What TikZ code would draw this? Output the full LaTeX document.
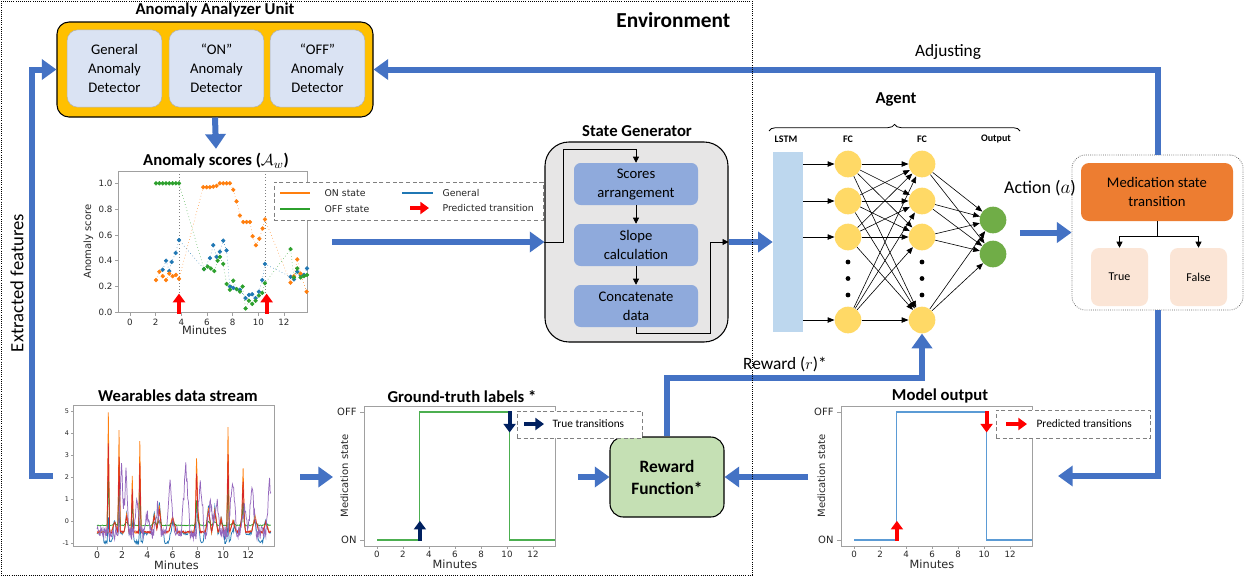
\documentclass[tikz,border=0pt]{standalone}
\usepackage{fontspec}
\setmainfont{Carlito}
\newfontfamily\dejavu{DejaVu Sans}
\usetikzlibrary{arrows.meta,decorations.pathreplacing}
\definecolor{bigblue}{HTML}{4472C4}
\definecolor{aauorange}{HTML}{FFC000}
\definecolor{detblue}{HTML}{DAE3F3}
\definecolor{sgblue}{HTML}{8FAADC}
\definecolor{sggray}{HTML}{E7E6E6}
\definecolor{lstmblue}{HTML}{BDD7EE}
\definecolor{fcyellow}{HTML}{FFD966}
\definecolor{outgreen}{HTML}{70AD47}
\definecolor{medorange}{HTML}{ED7D31}
\definecolor{tfpeach}{HTML}{FBE5D6}
\definecolor{rewgreen}{HTML}{C5E0B4}
\definecolor{navy}{HTML}{002060}
\definecolor{mplblue}{HTML}{1F77B4}
\definecolor{mplorange}{HTML}{FF7F0E}
\definecolor{mplgreen}{HTML}{2CA02C}
\definecolor{mplred}{HTML}{D62728}
\definecolor{mplpurple}{HTML}{9467BD}
\definecolor{stepgreen}{HTML}{4CAF50}
\definecolor{stepblue}{HTML}{5B9BD5}
\definecolor{axisgray}{HTML}{A0A0A0}
\begin{document}
\begin{tikzpicture}[x=0.75pt,y=-0.75pt,
  declare function={
    tri(\t,\c,\w)=max(0,1-abs(\t-\c)/\w);
    spk(\t)=5.4*tri(\t,0.9,0.1)+4.6*tri(\t,1.75,0.1)+2.6*tri(\t,2.8,0.1)+4.2*tri(\t,3.4,0.1)+2.4*tri(\t,7.9,0.1)+4.9*tri(\t,10.4,0.1)+2.2*tri(\t,11.6,0.1);
    mid(\t)=0.6*tri(\t,1.4,0.25)+1.0*tri(\t,2.35,0.2)+1.0*tri(\t,4.55,0.25)+1.5*tri(\t,4.95,0.2)+0.9*tri(\t,6.0,0.3)+1.6*tri(\t,7.95,0.25)+1.3*tri(\t,8.85,0.25)+1.2*tri(\t,9.35,0.25)+0.8*tri(\t,9.85,0.2)+0.7*tri(\t,10.8,0.25)+1.2*tri(\t,11.55,0.25)+0.9*tri(\t,12.55,0.3)+0.6*tri(\t,13.4,0.25);
    pur(\t)=3.0*tri(\t,1.95,0.25)+3.1*tri(\t,2.3,0.2)+1.5*tri(\t,3.2,0.3)+0.9*tri(\t,4.0,0.3)+1.2*tri(\t,4.8,0.3)+2.3*tri(\t,5.8,0.35)+3.1*tri(\t,7.05,0.35)+2.4*tri(\t,8.2,0.35)+1.6*tri(\t,9.0,0.3)+1.5*tri(\t,9.5,0.3)+2.5*tri(\t,10.75,0.35)+1.3*tri(\t,11.7,0.3)+2.0*tri(\t,12.3,0.35)+2.4*tri(\t,13.7,0.3);
  },
  bigarrow/.style={draw=bigblue,line width=4.5pt,line join=miter,-{Triangle[length=11pt,width=15pt]}},
  thinarrow/.style={draw=black,line width=0.6pt,-{Triangle[length=4.5pt,width=4.5pt]}},
  netarrow/.style={draw=black,line width=0.45pt,-{Triangle[length=5pt,width=4pt]}},
  redarr/.style={draw=red,line width=3pt,-{Triangle[length=6.5pt,width=9pt]}},
  navyarr/.style={draw=navy,line width=3pt,-{Triangle[length=6.5pt,width=9pt]}},
  titlelbl/.style={font=\bfseries\fontsize{12.5}{14}\selectfont},
  detbox/.style={draw=gray!60,fill=detblue,rounded corners=8pt,minimum width=71pt,minimum height=58pt,align=center,inner sep=0pt,font=\fontsize{11}{14.25}\selectfont},
  sgbox/.style={fill=sgblue,rounded corners=5pt,minimum width=93pt,minimum height=31.5pt,align=center,inner sep=0pt,font=\fontsize{11}{14.25}\selectfont},
  neuron/.style={circle,minimum size=20pt,inner sep=0pt},
  netlbl/.style={font=\bfseries\fontsize{7.5}{9}\selectfont},
  ticklbl/.style={font=\dejavu\fontsize{6.5}{8}\selectfont,text=black!85,inner sep=1.5pt},
  axlbl/.style={font=\dejavu\fontsize{7.5}{9}\selectfont,text=black!85,inner sep=1pt},
  pltframe/.style={draw=axisgray,line width=0.7pt},
  legbox/.style={draw=gray,densely dashed,fill=white,inner sep=0pt,line width=0.5pt},
]
\useasboundingbox (0,0) rectangle (1248,576);
\fill[white] (0,0) rectangle (1248,576);

% ================= Anomaly Analyzer Unit
\node[titlelbl] (aautitle) at (215,10) {Anomaly Analyzer Unit};
\node[draw=black,line width=0.8pt,fill=aauorange,rounded corners=9pt,minimum width=237pt,minimum height=71.25pt,inner sep=0pt] (aau) at (215,69.5) {};
\node[detbox] (gad) at (114.5,68.5) {General\\Anomaly\\Detector};
\node[detbox] (onad) at (216.5,68.5) {“ON”\\Anomaly\\Detector};
\node[detbox] (offad) at (317.5,68.5) {“OFF”\\Anomaly\\Detector};

% ================= Anomaly scores plot
\node[titlelbl] (astitle) at (216,161) {Anomaly scores ($\mathcal{A}_w$)};
\draw[bigarrow] (aau.south) -- (astitle.north);

\begin{scope}[shift={(130,312.3)},x=9.62pt,y=96.75pt]
  \draw[pltframe] (-0.935,0) rectangle (13.87,1.088);
  \foreach \v/\l [count=\i] in {0/0.0,0.2/0.2,0.4/0.4,0.6/0.6,0.8/0.8,1/1.0}{
    \draw[axisgray,line width=0.5pt] (-0.935,\v) -- ++(-0.25,0);
    \node[ticklbl,anchor=east] (asy\i) at (-1.2,\v) {\l};
  }
  \foreach \m in {0,2,...,12}{
    \draw[axisgray,line width=0.5pt] (\m,0) -- ++(0,-0.03);
    \node[ticklbl,anchor=north] (asx\m) at (\m,-0.035) {\m};
  }
  \node[axlbl,rotate=90] (asylab) at (-3.25,0.55) {Anomaly score};
  \node[axlbl,font=\dejavu\fontsize{8.5}{10}\selectfont] (asxlab) at (5.8,-0.14) {Minutes};
  \draw[gray,dotted,line width=0.4pt] (3.82,0.15) -- (3.82,1.088);
  \draw[gray,dotted,line width=0.4pt] (10.52,0.15) -- (10.52,1.088);
  \draw[mplblue,dotted,line width=0.4pt] plot[mark=*,mark size=1.4pt,mark options={solid}] coordinates {(2.55,0.33)(2.81,0.40)(3.06,0.32)(3.25,0.39)(3.56,0.46)(3.82,0.56)(5.77,0.335)(6.23,0.42)(6.49,0.52)(6.75,0.43)(7.01,0.47)(7.27,0.555)(7.53,0.48)(7.79,0.2)(8.05,0.19)(8.31,0.18)(8.57,0.175)(9.01,0.11)(9.27,0.135)(9.53,0.14)(9.79,0.11)(10.05,0.16)(10.31,0.25)(10.52,0.375)(12.52,0.275)(12.78,0.255)(13.04,0.315)(13.3,0.29)(13.56,0.29)(13.8,0.34)};
  \draw[mplorange,dotted,line width=0.4pt] plot[mark=*,mark size=1.4pt,mark options={solid}] coordinates {(2.03,0.25)(2.29,0.315)(2.55,0.28)(2.81,0.25)(3.06,0.30)(3.32,0.28)(3.58,0.29)(3.82,0.26)(5.71,0.97)(5.97,0.97)(6.23,0.97)(6.49,0.975)(6.75,0.98)(7.01,1.0)(7.27,1.0)(7.53,1.0)(7.79,1.0)(8.05,0.95)(8.31,0.86)(8.57,0.75)(8.83,0.70)(9.09,0.70)(9.35,0.70)(9.56,0.59)(9.82,0.52)(10.08,0.57)(10.34,0.65)(10.52,0.72)(12.52,0.23)(12.78,0.28)(13.04,0.41)(13.3,0.30)(13.77,0.16)};
  \draw[mplgreen,dotted,line width=0.4pt] plot[mark=*,mark size=1.4pt,mark options={solid}] coordinates {(2.03,1)(2.29,1)(2.55,1)(2.81,1)(3.06,1)(3.32,1)(3.58,1)(3.82,1)(5.77,0.335)(6.05,0.355)(6.3,0.34)(6.57,0.32)(6.83,0.40)(7.01,0.43)(7.27,0.375)(7.53,0.22)(7.79,0.175)(8.05,0.245)(8.31,0.18)(8.57,0.16)(8.78,0.2)(9.01,0.03)(9.27,0.09)(9.53,0.065)(9.79,0.09)(10.05,0.13)(10.31,0.15)(10.52,0.225)(12.52,0.49)(12.78,0.27)(13.04,0.34)(13.3,0.27)(13.56,0.28)(13.8,0.29)};
  \coordinate (asra1) at (3.82,-0.01);
  \coordinate (asrb1) at (3.82,0.145);
  \coordinate (asra2) at (10.65,-0.01);
  \coordinate (asrb2) at (10.65,0.145);
  \draw[redarr] (asra1) -- (asrb1);
  \draw[redarr] (asra2) -- (asrb2);
\end{scope}
% legend
\node[legbox,minimum width=201.75pt,minimum height=28.5pt] (aslegend) at (408.5,201) {};
\draw[mplorange,line width=1.1pt] (280,193) -- (310,193);
\draw[mplgreen,line width=1.1pt] (280,209) -- (310,209);
\draw[mplblue,line width=1.1pt] (402,193) -- (433,193);
\coordinate (legra) at (410,208);
\coordinate (legrb) at (429,208);
\draw[redarr] (legra) -- (legrb);
\node[axlbl,anchor=west,font=\dejavu\fontsize{7}{8}\selectfont] (legon) at (323,193) {ON state};
\node[axlbl,anchor=west,font=\dejavu\fontsize{7}{8}\selectfont] (legoff) at (323,209) {OFF state};
\node[axlbl,anchor=west,font=\dejavu\fontsize{7}{8}\selectfont] (leggen) at (441,193) {General};
\node[axlbl,anchor=west,font=\dejavu\fontsize{7}{8}\selectfont] (legpred) at (441,208) {Predicted transition};

% ================= State Generator
\node[titlelbl] (sgtitle) at (637,131) {State Generator};
\node[draw=black,line width=0.8pt,fill=sggray,rounded corners=18pt,minimum width=137.25pt,minimum height=150pt,inner sep=0pt] (sg) at (636.5,242) {};
\node[sgbox] (sb1) at (636,184) {Scores\\arrangement};
\node[sgbox] (sb2) at (636,245) {Slope\\calculation};
\node[sgbox] (sb3) at (636,306) {Concatenate\\data};
\draw[thinarrow] (sg.west) -- (563,242) |- (636,149) -- (sb1.north);
\draw[thinarrow] (sb1.south) -- (sb2.north);
\draw[thinarrow] (sb2.south) -- (sb3.north);
\draw[thinarrow] (sb3.south) -- (636,333) -| (710,242) -- (sg.east);
\coordinate (asout) at (332,242);
\draw[bigarrow] (asout) -- (sg.west);

% ================= Agent
\node[titlelbl] (agtitle) at (896,100) {Agent};
\draw[decorate,decoration={brace,amplitude=5pt},line width=0.6pt] (769,131) -- (1020,131);
\node[netlbl] (lstmlbl) at (786,139) {LSTM};
\node[netlbl] (fc1lbl) at (848,139) {FC};
\node[netlbl] (fc2lbl) at (922,139) {FC};
\node[netlbl] (outlbl) at (996,139) {Output};
\node[fill=lstmblue,minimum width=22.5pt,minimum height=135pt,inner sep=0pt] (lstm) at (788,242) {};
\foreach \n/\yy in {a/164,b/201,c/237,d/320}{
  \node[neuron,fill=fcyellow] (f1\n) at (848,\yy) {};
  \node[neuron,fill=fcyellow] (f2\n) at (922,\yy) {};
}
\node[neuron,fill=outgreen] (oa) at (993,220) {};
\node[neuron,fill=outgreen] (ob) at (993,254) {};
\foreach \yy in {262,278.5,295}{
  \fill (848,\yy) circle (1.8pt);
  \fill (922,\yy) circle (1.8pt);
}
\foreach \n in {a,b,c,d}{
  \draw[netarrow] (lstm.east |- f1\n) -- (f1\n);
}
\foreach \a in {a,b,c,d}{
  \foreach \b in {a,b,c,d}{
    \draw[netarrow] (f1\a) -- (f2\b);
  }
  \foreach \b in {a,b}{
    \draw[netarrow] (f2\a) -- (o\b);
  }
}
\draw[bigarrow] (sg.east) -- (lstm.west);

% ================= Medication state transition
\node[draw=gray!80!black,densely dotted,line width=0.6pt,rounded corners=10pt,minimum width=128.25pt,minimum height=116.25pt,inner sep=0pt] (medbox) at (1157.5,232.5) {};
\node[fill=medorange,rounded corners=6pt,minimum width=114pt,minimum height=43.5pt,align=center,inner sep=0pt,font=\fontsize{11}{14.25}\selectfont] (medtr) at (1157,192) {Medication state\\transition};
\node[fill=tfpeach,rounded corners=6pt,minimum width=42.75pt,minimum height=43.5pt,inner sep=0pt,font=\fontsize{9}{11}\selectfont] (truebox) at (1119.5,277) {True};
\node[fill=tfpeach,rounded corners=6pt,minimum width=42.75pt,minimum height=43.5pt,inner sep=0pt,font=\fontsize{9}{11}\selectfont] (falsebox) at (1198.5,277) {False};
\coordinate (medsplit) at (1157,236);
\draw[line width=0.6pt] (medtr.south) -- (medsplit);
\draw[thinarrow] (medsplit) -| (truebox.north);
\draw[thinarrow] (medsplit) -| (falsebox.north);
\node[font=\fontsize{13.5}{15}\selectfont] (actlbl) at (1040,188) {Action ($a$)};
\coordinate (actout) at (1020,232.5);
\draw[bigarrow] (actout) -- (medbox.west);

% ================= Feedback arrows
\node[font=\fontsize{13}{15}\selectfont] (adjlbl) at (948,52) {Adjusting};
\draw[bigarrow] (medbox.north) |- (aau.east);
\coordinate (moin) at (1058,476);
\draw[bigarrow] (medbox.south) |- (moin);
\coordinate (wsout) at (53,476);
\draw[bigarrow] (wsout) -- (32,476) |- (aau.west);
\node[font=\fontsize{14}{16}\selectfont,rotate=90] (exflbl) at (17,283) {Extracted features};

% ================= Reward function
\node[draw=black,line width=0.8pt,fill=rewgreen,rounded corners=10pt,minimum width=85.5pt,minimum height=60pt,align=center,inner sep=0pt,font=\bfseries\fontsize{13}{16.5}\selectfont] (reward) at (667,477) {Reward\\Function*};
\coordinate (rwturn) at (667,378);
\draw[bigarrow] (reward.north) -- (rwturn) -| (f2d.south);
\node[font=\fontsize{13}{15}\selectfont] (rwlbl) at (785,364) {Reward ($r$)*};

% ================= Wearables data stream
\node[titlelbl] (wstitle) at (178,396) {Wearables data stream};
\begin{scope}[shift={(97,521)},x=9.45pt,y=16.5pt]
  \draw[pltframe] (-1.83,-1.17) rectangle (14.05,5.23);
  \foreach \v [count=\i] in {-1,0,1,2,3,4,5}{
    \draw[axisgray,line width=0.5pt] (-1.83,\v) -- ++(-0.25,0);
    \node[ticklbl,anchor=east,font=\dejavu\fontsize{4.8}{6}\selectfont] (wsy\i) at (-2.05,\v) {\v};
  }
  \foreach \m in {0,2,...,12}{
    \draw[axisgray,line width=0.5pt] (\m,-1.17) -- ++(0,-0.15);
    \node[ticklbl,anchor=north,font=\dejavu\fontsize{7}{8}\selectfont] (wsx\m) at (\m,-1.3) {\m};
  }
  \node[axlbl,font=\dejavu\fontsize{8.5}{10}\selectfont] (wsxlab) at (6.3,-2.0) {Minutes};
  \pgfmathsetseed{11}
  \draw[mplblue,line width=0.55pt] plot[domain=0:13.8,samples=277] (\x,{-0.55-0.4*(sin(\x*150-45)>0.55)+0.2*spk(\x)+0.95*mid(\x)+0.08*rand});
  \draw[mplorange,line width=0.55pt] plot[domain=0:13.8,samples=277] (\x,{-0.5+spk(\x)+0.8*mid(\x)+0.06*rand});
  \draw[mplgreen,line width=0.55pt] plot[domain=0:13.8,samples=277] (\x,{-0.2+0.4*spk(\x)+0.15*mid(\x)+0.02*rand});
  \draw[mplred,line width=0.55pt] plot[domain=0:13.8,samples=277] (\x,{-0.5+0.75*spk(\x)+0.7*mid(\x)+0.05*rand});
  \draw[mplpurple,line width=0.55pt] plot[domain=0:13.8,samples=277] (\x,{-0.55+pur(\x)+0.3*rand});
\end{scope}
\coordinate (wsright) at (300,477);
\coordinate (gtin) at (333,477);
\draw[bigarrow] (wsright) -- (gtin);

% ================= Ground-truth labels
\node[titlelbl] (gttitle) at (462,397) {Ground-truth labels *};
\begin{scope}[shift={(377,540)},x=9.75pt,y=96pt]
  \draw[pltframe] (-1,-0.047) rectangle (13.7,1.04);
  \foreach \v/\l in {0/ON,1/OFF}{
    \draw[axisgray,line width=0.5pt] (-1,\v) -- ++(-0.3,0);
    \node[ticklbl,anchor=east,font=\dejavu\fontsize{7.5}{9}\selectfont] (gty\l) at (-1.4,\v) {\l};
  }
  \foreach \m in {0,2,...,12}{
    \draw[axisgray,line width=0.5pt] (\m,-0.047) -- ++(0,-0.025);
    \node[ticklbl,anchor=north] (gtx\m) at (\m,-0.07) {\m};
  }
  \node[axlbl,rotate=90] (gtylab) at (-2.5,0.5) {Medication state};
  \node[axlbl,font=\dejavu\fontsize{8.5}{10}\selectfont] (gtxlab) at (6,-0.19) {Minutes};
  \draw[stepgreen,line width=0.8pt] (0,0) -- (3.3,0) -- (3.3,1) -- (10.2,1) -- (10.2,0) -- (13.7,0);
  \coordinate (gtua) at (3.3,-0.005);
  \coordinate (gtub) at (3.3,0.15);
  \coordinate (gtda) at (10.2,1.005);
  \coordinate (gtdb) at (10.2,0.84);
  \draw[navyarr] (gtua) -- (gtub);
  \draw[navyarr] (gtda) -- (gtdb);
\end{scope}
\node[legbox,minimum width=93.75pt,minimum height=20.25pt] (gtlegend) at (579.5,424.5) {};
\coordinate (gtla) at (524,424);
\coordinate (gtlb) at (544,424);
\draw[navyarr] (gtla) -- (gtlb);
\node[anchor=west,font=\fontsize{8.5}{10}\selectfont,inner sep=1pt] (gtlegtxt) at (551,424) {True transitions};
\coordinate (gtout) at (578,477);
\draw[bigarrow] (gtout) -- (reward.west);

% ================= Model output
\node[titlelbl] (motitle) at (940,396) {Model output};
\begin{scope}[shift={(854,540)},x=9.75pt,y=96pt]
  \draw[pltframe] (-1,-0.047) rectangle (13.7,1.04);
  \foreach \v/\l in {0/ON,1/OFF}{
    \draw[axisgray,line width=0.5pt] (-1,\v) -- ++(-0.3,0);
    \node[ticklbl,anchor=east,font=\dejavu\fontsize{7.5}{9}\selectfont] (moy\l) at (-1.4,\v) {\l};
  }
  \foreach \m in {0,2,...,12}{
    \draw[axisgray,line width=0.5pt] (\m,-0.047) -- ++(0,-0.025);
    \node[ticklbl,anchor=north] (mox\m) at (\m,-0.07) {\m};
  }
  \node[axlbl,rotate=90] (moylab) at (-2.5,0.5) {Medication state};
  \node[axlbl,font=\dejavu\fontsize{8.5}{10}\selectfont] (moxlab) at (6,-0.19) {Minutes};
  \draw[stepblue,line width=0.8pt] (0,0) -- (3.3,0) -- (3.3,1) -- (10.2,1) -- (10.2,0) -- (13.7,0);
  \coordinate (moua) at (3.3,-0.005);
  \coordinate (moub) at (3.3,0.15);
  \coordinate (moda) at (10.2,1.005);
  \coordinate (modb) at (10.2,0.84);
  \draw[redarr] (moua) -- (moub);
  \draw[redarr] (moda) -- (modb);
\end{scope}
\node[legbox,minimum width=115.5pt,minimum height=21pt] (molegend) at (1073,424) {};
\coordinate (mola) at (1006,424);
\coordinate (molb) at (1027,424);
\draw[redarr] (mola) -- (molb);
\node[anchor=west,font=\fontsize{8.5}{10}\selectfont,inner sep=1pt] (molegtxt) at (1035,424) {Predicted transitions};
\coordinate (moout) at (808,477);
\draw[bigarrow] (moout) -- (reward.east);

% ================= Environment frame
\node[font=\bfseries\fontsize{16}{18}\selectfont,anchor=east] (envlbl) at (735,20) {Environment};
\draw[densely dotted,line width=0.6pt] (1,1) rectangle (752,575);
\end{tikzpicture}
\end{document}
